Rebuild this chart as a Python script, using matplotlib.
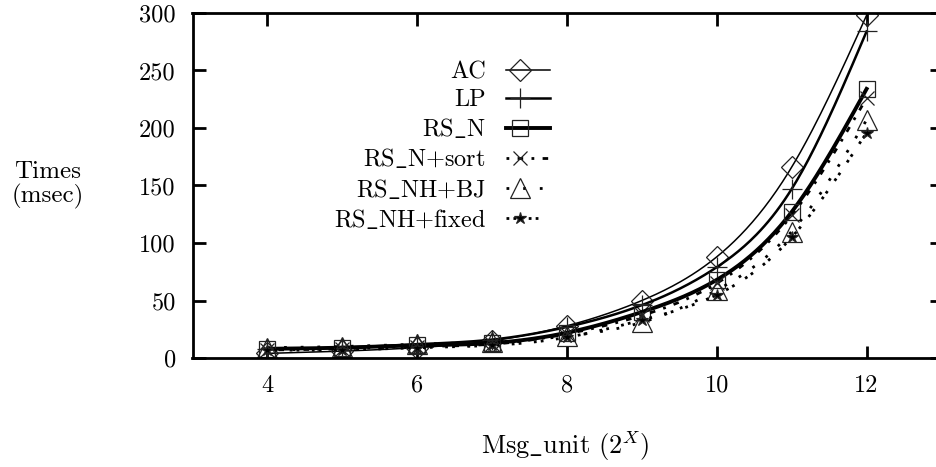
import numpy as np
import matplotlib
matplotlib.use("Agg")
import matplotlib.pyplot as plt
from matplotlib.legend_handler import HandlerLine2DCompound
from matplotlib.ticker import FuncFormatter

plt.rcParams['font.family'] = ['cmr10', 'DejaVu Serif']
plt.rcParams['mathtext.fontset'] = 'cm'
plt.rcParams['axes.formatter.use_mathtext'] = True
plt.rcParams['lines.scale_dashes'] = False

# ---- data ----
msg_unit = [4, 5, 6, 7, 8, 9, 10, 11, 12]
ac = [4, 6, 9, 15, 28, 50, 88, 166, 298]
lp = [8, 9, 12, 16, 27, 46, 79, 147, 284]
rs_n = [8, 9, 11, 13, 22, 40, 68, 127, 234]
rs_n_sort = [7, 8, 10, 12, 21, 37, 65, 124, 226]
rs_nh_bj = [9, 10, 12, 14, 19, 31, 59, 110, 207]
rs_nh_fixed = [7, 7, 9, 11, 18, 33, 55, 105, 196]
labels = [r'AC', r'LP', r'RS$\_$N', r'RS$\_$N+sort', r'RS$\_$NH+BJ', r'RS$\_$NH+fixed']
xticks = [4, 6, 8, 10, 12]
yticks = [0, 50, 100, 150, 200, 250, 300]


def natural_spline(x, y, n=300):
    x = np.asarray(x, float); y = np.asarray(y, float)
    m = len(x); h = np.diff(x)
    A = np.zeros((m, m)); b = np.zeros(m)
    A[0, 0] = A[-1, -1] = 1
    for i in range(1, m - 1):
        A[i, i - 1] = h[i - 1]; A[i, i] = 2 * (h[i - 1] + h[i]); A[i, i + 1] = h[i]
        b[i] = 3 * ((y[i + 1] - y[i]) / h[i] - (y[i] - y[i - 1]) / h[i - 1])
    c = np.linalg.solve(A, b)
    xs = np.linspace(x[0], x[-1], n)
    idx = np.clip(np.searchsorted(x, xs) - 1, 0, m - 2)
    dx = xs - x[idx]
    bb = (y[idx + 1] - y[idx]) / h[idx] - h[idx] * (2 * c[idx] + c[idx + 1]) / 3
    d = (c[idx + 1] - c[idx]) / (3 * h[idx])
    ys = y[idx] + bb * dx + c[idx] * dx ** 2 + d * dx ** 3
    return xs, ys


class MarkerLeftHandler(HandlerLine2DCompound):
    def get_xdata(self, legend, xdescent, ydescent, width, height, fontsize):
        xdata = np.array([-xdescent, -xdescent + width])
        xm = np.array([-xdescent + 0.32 * width])
        return xdata, xm


fig = plt.figure(figsize=(9.36, 4.67), dpi=100)
ax = fig.add_axes([192.5 / 936, 1 - 358 / 467, 749 / 936, 345 / 467])

series = [ac, lp, rs_n, rs_n_sort, rs_nh_bj, rs_nh_fixed]
styles = [
    dict(lw=1.1, ls='-', marker='D', ms=11, mfc='none'),
    dict(lw=1.8, ls='-', marker='+', ms=14, mfc='none'),
    dict(lw=2.8, ls='-', marker='s', ms=11, mfc='none'),
    dict(lw=2.0, ls=(0, (2, 6, 4, 6)), marker='x', ms=10, mfc='none'),
    dict(lw=2.0, ls=(0, (2, 10)), marker='^', ms=15, mfc='none'),
    dict(lw=2.0, ls=(0, (2, 3, 2, 9)), marker='*', ms=9, mfc='black'),
]
handles = []
for ys, st, lab in zip(series, styles, labels):
    sx, sy = natural_spline(msg_unit, ys)
    ax.plot(sx, sy, color='black', lw=st['lw'], ls=st['ls'])
    ax.plot(msg_unit, ys, ls='none', marker=st['marker'], ms=st['ms'],
            mfc=st['mfc'], mec='#222222', mew=0.9)
    h, = ax.plot([], [], color='black', lw=st['lw'], ls=st['ls'],
                 marker=st['marker'], ms=st['ms'], mfc=st['mfc'],
                 mec='#222222', mew=0.9, label=lab)
    handles.append(h)

ax.set_xlim(3, 13)
ax.set_ylim(0, 300)
ax.set_xticks(xticks)
ax.set_yticks(yticks)
ax.tick_params(direction='in', length=9, width=2, top=True, right=True,
               labelsize=17.5, pad=12)
for s in ax.spines.values():
    s.set_linewidth(2)
ax.xaxis.set_major_formatter(FuncFormatter(lambda v, p: '%d' % v))
ax.yaxis.set_major_formatter(FuncFormatter(lambda v, p: '%d' % v))

leg = fig.legend(handles=handles, loc='upper right',
                 bbox_to_anchor=(550 / 936, 1 - 61 / 467),
                 markerfirst=False, frameon=False, fontsize=17.5,
                 borderpad=0, borderaxespad=0, handlelength=1.8,
                 handletextpad=0.85, labelspacing=0.25,
                 handler_map={matplotlib.lines.Line2D: MarkerLeftHandler()})

fig.text(48 / 936, 1 - 185 / 467, 'Times\n(msec)', ha='center', va='center',
         fontsize=18, multialignment='center', linespacing=1.05)
fig.text(565 / 936, 1 - 446 / 467, r'Msg$\_$unit $(2^{X})$', ha='center',
         va='center', fontsize=19)

fig.savefig('out.png', dpi=100)
